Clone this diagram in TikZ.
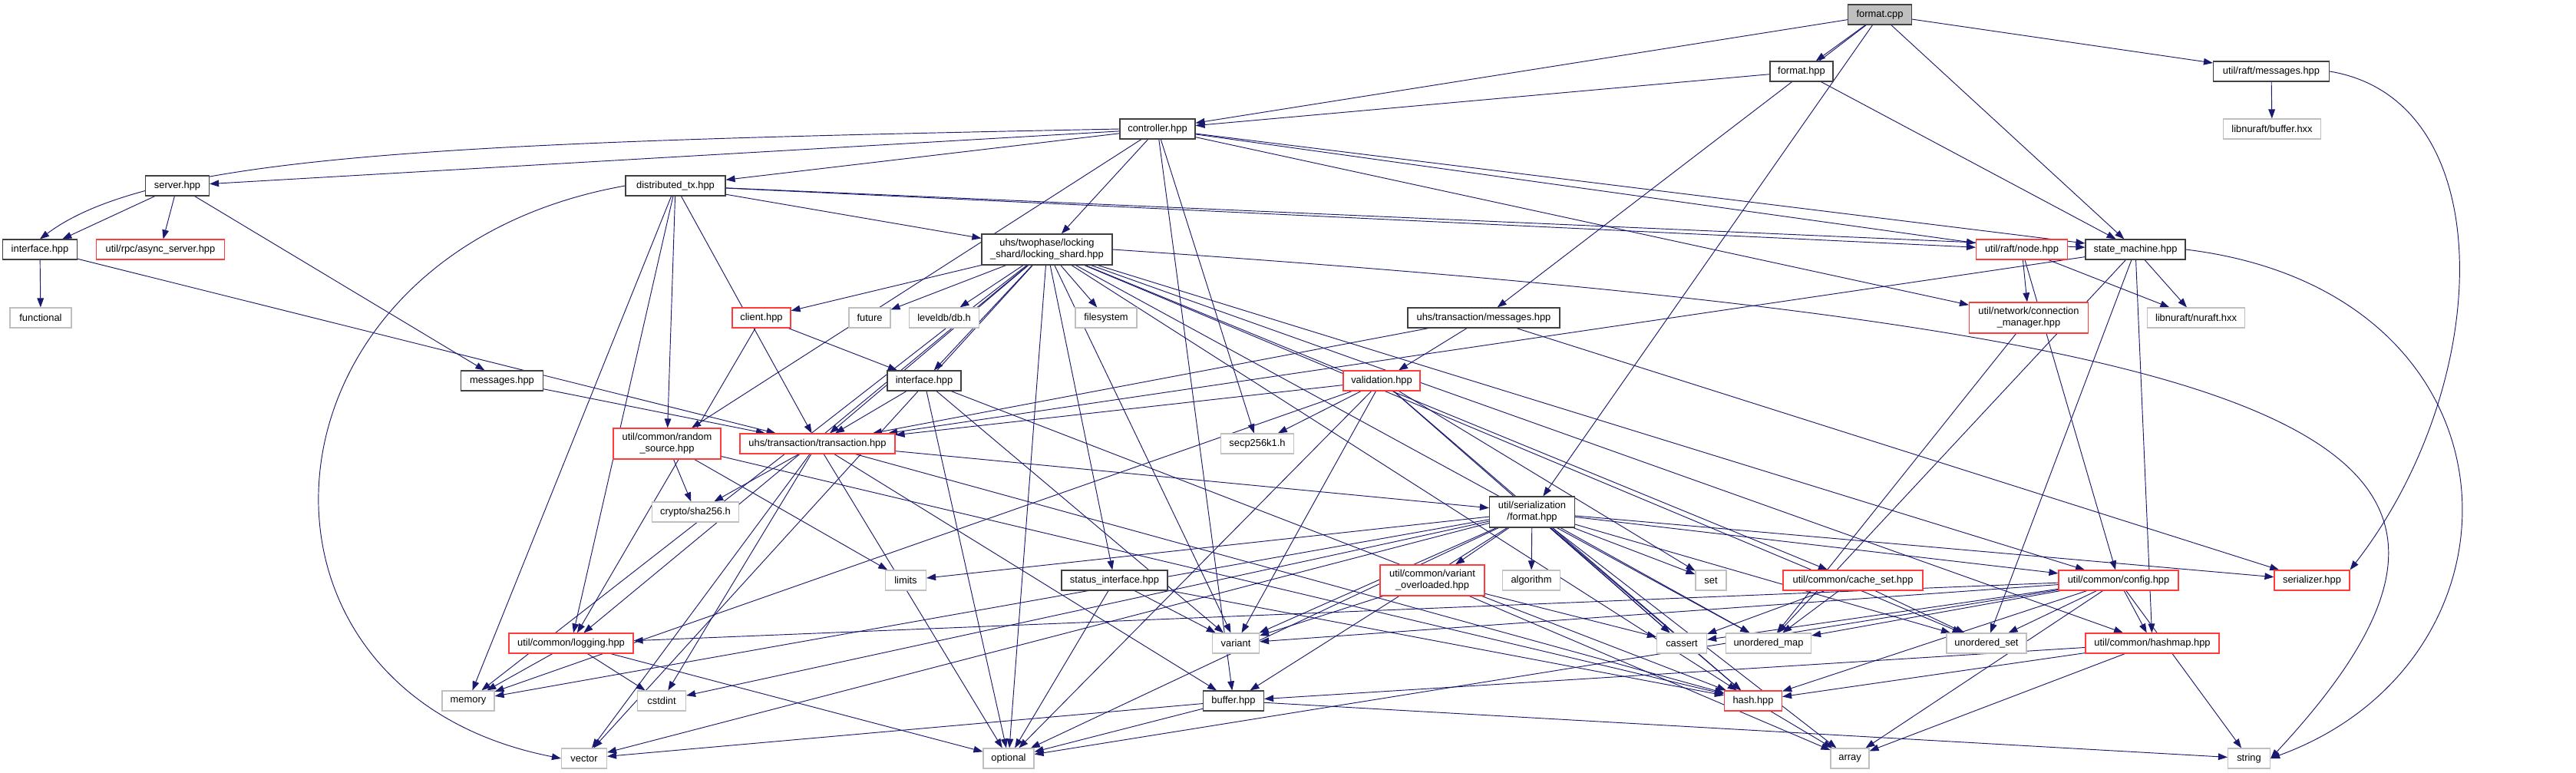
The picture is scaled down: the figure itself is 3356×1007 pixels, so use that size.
\documentclass[tikz,border=0pt]{standalone}
\usepackage{fontspec}
\setmainfont{Liberation Sans}
\usetikzlibrary{arrows.meta,backgrounds}
\definecolor{edgeblue}{HTML}{191970}
\definecolor{boxred}{HTML}{FF3B3B}
\definecolor{boxgrey}{HTML}{BFBFBF}
\definecolor{boxdark}{HTML}{404040}

\begin{document}
\begin{tikzpicture}[x=0.03cm, y=-0.03cm,
    file/.style={rectangle, draw=boxdark, line width=1pt, fill=white,
                 minimum height=0.78cm, inner xsep=1pt, inner ysep=1pt,
                 align=center, font=\fontsize{11}{13}\selectfont},
    sys/.style={file, draw=boxgrey},
    trunc/.style={file, draw=boxred},
    wd/.style={minimum width=#1*0.03cm},
    twoline/.style={minimum height=1.2cm},
    dep/.style={edgeblue, line width=0.8pt, -{Triangle[length=0.36cm, width=0.26cm]}}
]
\useasboundingbox (0,0) rectangle (3356,1007);

% row 0 and 1
\node[file, wd=83, fill=boxgrey] (fcpp) at (2449,19) {format.cpp};
\node[file, wd=82] (fhpp) at (2347,93) {format.hpp};
\node[file, wd=151] (raftmsg) at (2959,93) {util/raft/messages.hpp};
\node[sys, wd=127] (nbuffer) at (2960,168) {libnuraft/buffer.hxx};
\node[file, wd=98] (ctrl) at (1508,168) {controller.hpp};
\node[file, wd=83] (server) at (231,242) {server.hpp};
\node[file, wd=130] (dtx) at (880,242) {distributed\_tx.hpp};

% row 2
\node[file, wd=97] (ifleft) at (52,325) {interface.hpp};
\node[trunc, wd=167] (asyncsrv) at (209,325) {util/rpc/async\_server.hpp};
\node[file, wd=170, twoline] (lshard) at (1364,325) {uhs/twophase/locking\\\_shard/locking\_shard.hpp};
\node[trunc, wd=119] (raftnode) at (2634,325) {util/raft/node.hpp};
\node[file, wd=130] (statem) at (2782,325) {state\_machine.hpp};

% row 3
\node[sys, wd=80] (functional) at (53,414) {functional};
\node[trunc, wd=76] (client) at (992,414) {client.hpp};
\node[sys, wd=54] (future) at (1133,414) {future};
\node[sys, wd=91] (leveldb) at (1230,414) {leveldb/db.h};
\node[sys, wd=80] (filesystem) at (1441,414) {filesystem};
\node[file, wd=198] (txmsg) at (1933,414) {uhs/transaction/messages.hpp};
\node[trunc, wd=155, twoline] (connmgr) at (2643,414) {util/network/connection\\\_manager.hpp};
\node[sys, wd=127] (nuraft) at (2861,414) {libnuraft/nuraft.hxx};

% row 4 and 5
\node[file, wd=107] (msgs) at (654,496) {messages.hpp};
\node[file, wd=96] (ifmid) at (1204,496) {interface.hpp};
\node[trunc, wd=100] (valid) at (1800,496) {validation.hpp};
\node[trunc, wd=140, twoline] (randsrc) at (869,578) {util/common/random\\\_source.hpp};
\node[trunc, wd=202] (txn) at (1065,578) {uhs/transaction/transaction.hpp};
\node[sys, wd=95] (secp) at (1638,578) {secp256k1.h};

% row 6 and 7
\node[sys, wd=113] (sha) at (906,667) {crypto/sha256.h};
\node[file, wd=111, twoline] (serfmt) at (1996,667) {util/serialization\\/format.hpp};
\node[sys, wd=53] (limits) at (1180,756) {limits};
\node[file, wd=138] (statusif) at (1452,756) {status\_interface.hpp};
\node[trunc, wd=136, twoline] (varov) at (1866,756) {util/common/variant\\\_overloaded.hpp};
\node[sys, wd=75] (algorithm) at (1995,756) {algorithm};
\node[sys, wd=40] (set) at (2229,756) {set};
\node[trunc, wd=182] (cacheset) at (2414,756) {util/common/cache\_set.hpp};
\node[trunc, wd=156] (config) at (2760,756) {util/common/config.hpp};
\node[trunc, wd=98] (serializer) at (3012,756) {serializer.hpp};

% row 8
\node[trunc, wd=162] (logging) at (744,838) {util/common/logging.hpp};
\node[sys, wd=61] (variant) at (1610,838) {variant};
\node[sys, wd=65] (cassert) at (2191,838) {cassert};
\node[sys, wd=111] (umap) at (2304,838) {unordered\_map};
\node[sys, wd=104] (uset) at (2588,838) {unordered\_set};
\node[trunc, wd=174] (hashmap) at (2804,838) {util/common/hashmap.hpp};

% row 9 and 10
\node[sys, wd=68] (memory) at (610,913) {memory};
\node[sys, wd=63] (cstdint) at (862,913) {cstdint};
\node[file, wd=79] (buffer) at (1607,913) {buffer.hpp};
\node[trunc, wd=75] (hash) at (2284,913) {hash.hpp};
\node[sys, wd=59] (vector) at (761,988) {vector};
\node[sys, wd=66] (optional) at (1314,988) {optional};
\node[sys, wd=50] (array) at (2410,988) {array};
\node[sys, wd=55] (string) at (2930,988) {string};

\begin{scope}[on background layer]
\foreach \src/\dst in {fcpp/fhpp, fcpp/ctrl, fcpp/raftmsg, fcpp/statem, fcpp/txmsg, fcpp/serfmt,
    fhpp/ctrl, fhpp/statem, raftmsg/nbuffer,
    ctrl/server, ctrl/dtx, ctrl/lshard, ctrl/statem, ctrl/raftnode, ctrl/connmgr,
    ctrl/secp, ctrl/randsrc, ctrl/buffer,
    server/ifleft, server/asyncsrv, server/msgs,
    dtx/lshard, dtx/raftnode, dtx/statem, dtx/txn, dtx/memory, dtx/logging, dtx/randsrc,
    ifleft/functional, ifleft/txn,
    lshard/client, lshard/future, lshard/leveldb, lshard/filesystem, lshard/ifmid,
    lshard/statusif, lshard/txn, lshard/variant, lshard/logging, lshard/memory,
    lshard/vector, lshard/cacheset, lshard/config, lshard/hash, lshard/hashmap,
    lshard/umap, lshard/uset, lshard/optional,
    raftnode/connmgr, raftnode/nuraft, raftnode/config,
    statem/nuraft, statem/uset, statem/umap, statem/hashmap, statem/txn,
    connmgr/umap, client/ifmid, client/logging, msgs/txn,
    ifmid/txn, ifmid/optional, ifmid/variant, ifmid/hash,
    txmsg/valid, txmsg/txn, txmsg/serializer,
    valid/txn, valid/secp, valid/variant, valid/optional, valid/set, valid/cassert,
    valid/hash, valid/memory,
    randsrc/sha, randsrc/limits, randsrc/hash,
    txn/sha, txn/serfmt, txn/optional, txn/cstdint, txn/vector, txn/hash, txn/buffer,
    serfmt/varov, serfmt/algorithm, serfmt/set, serfmt/cassert, serfmt/umap,
    serfmt/config, serfmt/serializer, serfmt/uset, serfmt/hash, serfmt/array,
    serfmt/optional, serfmt/buffer, serfmt/variant, serfmt/limits, serfmt/memory,
    serfmt/vector, serfmt/cstdint,
    varov/variant, varov/cassert, varov/array,
    cacheset/cassert, cacheset/umap, cacheset/uset,
    config/logging, config/uset, config/hashmap, config/string, config/hash,
    config/cassert, config/umap, config/variant, config/optional, config/array,
    logging/memory, logging/cstdint, logging/optional,
    statusif/variant, statusif/optional, statusif/hash,
    buffer/vector, buffer/optional, buffer/string,
    hash/array, hashmap/buffer, hashmap/hash, hashmap/array}
  \draw[dep] (\src) -- (\dst);

% long curved ones
\draw[dep] (ctrl.west) .. controls (600,185) and (200,200) .. (ifleft.north);
\draw[dep] (dtx.west) .. controls (320,330) and (280,900) .. (vector.west);
\draw[dep] (raftmsg.east) .. controls (3260,130) and (3250,500) .. (serializer.north east);
\draw[dep] (statem.east) .. controls (3300,380) and (3310,860) .. (string.east);
\draw[dep] (lshard.east) .. controls (3000,430) and (3356,560) .. (string.east);
\end{scope}
\end{tikzpicture}
\end{document}
